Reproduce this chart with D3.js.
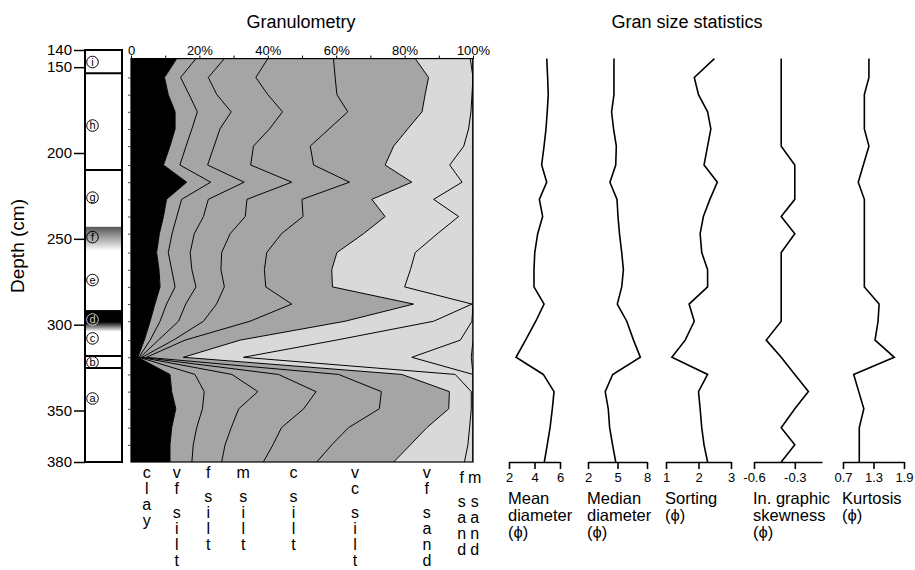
<!DOCTYPE html>
<html>
<head>
<meta charset="utf-8">
<script src="https://cdn.jsdelivr.net/npm/d3@7"></script>
<style>
  body { margin: 0; background: #fff; }
  text { font-family: "Liberation Sans", Arial, sans-serif; fill: #000; }
</style>
</head>
<body>
<div id="chart"></div>
<script>
// sample depths (cm)
var depths = [145, 156, 166, 176, 186, 196, 207, 217, 227, 237, 247, 258, 268, 278, 288, 298, 309, 319, 329, 339, 349, 360, 370, 380];

// cumulative granulometry, % at the upper limit of each class
var cumClay   = [13.4, 9.8, 10.9, 12.9, 12.9, 11.4, 9.5, 16.3, 10.4, 9.5, 8.3, 7.5, 8.2, 8.5, 7.0, 5.6, 3.9, 2.0, 11.4, 11.9, 13.1, 11.9, 11.4, 11.4];
var cumVfSilt = [19.0, 14.5, 17.0, 19.4, 17.8, 16.1, 14.3, 23.3, 14.8, 13.4, 12.0, 10.9, 11.9, 12.9, 10.4, 8.5, 5.6, 2.3, 18.7, 21.4, 20.9, 19.2, 18.2, 17.8];
var cumFSilt  = [27.3, 22.6, 25.1, 29.3, 26.0, 24.3, 22.4, 33.1, 22.6, 21.2, 18.5, 17.3, 17.8, 19.0, 16.0, 13.9, 8.0, 2.7, 29.5, 37.1, 31.5, 29.3, 27.5, 26.5];
var cumMSilt  = [40.0, 36.5, 40.0, 44.3, 40.5, 35.8, 35.0, 47.0, 33.9, 33.4, 29.0, 26.5, 26.3, 27.3, 25.0, 21.2, 12.4, 3.2, 43.1, 54.1, 50.5, 44.0, 41.5, 38.7];
var cumCSilt  = [59.2, 59.7, 60.2, 63.4, 57.9, 52.4, 53.4, 63.9, 50.0, 50.3, 44.0, 39.7, 39.0, 39.4, 47.0, 34.8, 15.8, 4.5, 60.7, 73.2, 72.6, 63.6, 58.7, 54.3];
var cumVcSilt = [83.1, 87.0, 86.0, 85.1, 80.9, 76.8, 74.3, 82.1, 70.4, 74.3, 68.0, 60.2, 58.7, 58.9, 82.6, 62.6, 31.9, 15.3, 79.2, 93.1, 92.9, 86.5, 81.7, 76.8];
var cumVfSand = [99.2, 100, 99.7, 99.4, 98.7, 97.3, 93.2, 96.8, 88.5, 95.8, 89.6, 83.1, 81.7, 80.0, 99.7, 88.5, 60.0, 32.9, 94.8, 99.5, 99.5, 99.0, 98.5, 97.5];
var cumFSand  = [100, 100, 100, 100, 100, 100, 100, 100, 100, 100, 100, 100, 100, 100, 100, 99.7, 96.3, 82.1, 100, 100, 100, 100, 100, 100];
var cumMSand  = [100, 100, 100, 100, 100, 100, 100, 100, 100, 100, 100, 100, 100, 100, 100, 100, 100, 99.5, 100, 100, 100, 100, 100, 100];
var classNames = ["clay", "vf silt", "f silt", "m silt", "c silt", "vc silt", "vf sand", "f sand", "m sand"];

// grain size statistics
var meanDiameter   = [4.96, 5.03, 5.08, 5.0, 4.9, 4.75, 4.56, 4.96, 4.38, 4.64, 4.25, 4.02, 3.96, 3.96, 4.75, 4.1, 3.3, 2.55, 4.69, 5.53, 5.4, 5.22, 5.0, 4.77];
var medianDiameter = [4.64, 4.64, 4.64, 4.4, 4.6, 4.88, 4.82, 4.23, 4.95, 5.05, 5.2, 5.43, 5.6, 5.43, 4.98, 5.94, 6.63, 7.32, 4.51, 3.75, 4.06, 4.2, 4.5, 4.82];
var sorting        = [2.49, 1.87, 2.0, 2.28, 2.38, 2.28, 2.17, 2.58, 2.35, 2.15, 2.05, 2.1, 2.28, 2.28, 1.71, 1.87, 1.59, 1.18, 2.28, 2.0, 2.05, 2.1, 2.17, 2.28];
var skewness       = [-0.4, -0.4, -0.4, -0.4, -0.4, -0.4, -0.3, -0.3, -0.3, -0.4, -0.3, -0.4, -0.4, -0.4, -0.4, -0.4, -0.51, -0.4, -0.3, -0.2, -0.3, -0.4, -0.3, -0.4];
var kurtosis       = [1.21, 1.21, 1.12, 1.12, 1.12, 1.21, 1.10, 1.0, 1.12, 1.12, 1.12, 1.12, 1.12, 1.12, 1.41, 1.39, 1.33, 1.71, 0.91, 1.01, 1.11, 1.02, 1.02, 1.02];

var statLabels = [["Mean", "diameter", "(ϕ)"], ["Median", "diameter", "(ϕ)"], ["Sorting", "(ϕ)"], ["In. graphic", "skewness", "(ϕ)"], ["Kurtosis", "(ϕ)"]];
var statDomains = [[2, 6], [2, 8], [1, 3], [-0.6, -0.1], [0.7, 1.9]];
var statTicks = [["2", "4", "6"], ["2", "5", "8"], ["1", "2", "3"], ["-0.6", "-0.3"], ["0.7", "1.3", "1.9"]];

// depth axis and lithology units
var depthTicks = [140, 150, 200, 250, 300, 350, 380];
var pctTicks = [0, 10, 20, 30, 40, 50, 60, 70, 80, 90, 100];
var unitBoundaries = [153.6, 209.9, 318.2, 325.2];
var unitLetters = ["i", "h", "g", "f", "e", "d", "c", "b", "a"];
var unitLetterDepth = [147, 184, 226, 249, 274, 297, 308, 322, 343];

var svg = d3.select("#chart").append("svg")
    .attr("width", 915)
    .attr("height", 570);

var y = d3.scaleLinear().domain([140, 380]).range([50, 462]);
var x = d3.scaleLinear().domain([0, 100]).range([131, 473]);

svg.append("text").attr("x", 301).attr("y", 28).attr("text-anchor", "middle")
    .style("font-size", "18px").text("Granulometry");
svg.append("text").attr("x", 687).attr("y", 28).attr("text-anchor", "middle")
    .style("font-size", "18px").text("Gran size statistics");

// ---- lithology column ----
var defs = svg.append("defs");
function fade(id, stops) {
    var g = defs.append("linearGradient").attr("id", id)
        .attr("x1", 0).attr("x2", 0).attr("y1", 0).attr("y2", 1);
    stops.forEach(function(s) { g.append("stop").attr("offset", s[0]).attr("stop-color", s[1]); });
}
fade("fadeF", [[0, "#555"], [0.4, "#999"], [1, "#fff"]]);
fade("fadeD", [[0, "#000"], [0.55, "#000"], [1, "#fff"]]);

var litho = svg.append("g");
var lx0 = 85, lx1 = 122;
litho.append("rect").attr("x", lx0).attr("y", y(243)).attr("width", lx1 - lx0)
    .attr("height", y(257) - y(243)).attr("fill", "url(#fadeF)");
litho.append("rect").attr("x", lx0).attr("y", y(291.5)).attr("width", lx1 - lx0)
    .attr("height", y(304) - y(291.5)).attr("fill", "url(#fadeD)");
litho.append("rect").attr("x", lx0).attr("y", y(140)).attr("width", lx1 - lx0)
    .attr("height", y(380) - y(140)).attr("fill", "none")
    .attr("stroke", "#000").attr("stroke-width", 2);
litho.selectAll("line.unit").data(unitBoundaries).enter().append("line")
    .attr("class", "unit")
    .attr("x1", lx0).attr("x2", lx1)
    .attr("y1", function(d) { return y(d); }).attr("y2", function(d) { return y(d); })
    .attr("stroke", "#000").attr("stroke-width", 2);

// circled unit letters
var marks = litho.selectAll("g.unit").data(unitLetters).enter().append("g")
    .attr("class", "unit")
    .attr("transform", function(d, i) { return "translate(92.5," + y(unitLetterDepth[i]) + ")"; });
marks.append("circle")
    .attr("r", 5.8)
    .attr("fill", "none")
    .attr("stroke", function(d) { return d === "d" ? "#ccc" : "#000"; })
    .attr("stroke-width", 1);
marks.append("text")
    .attr("text-anchor", "middle")
    .attr("dy", "0.35em")
    .style("font-size", "11px")
    .style("fill", function(d) { return d === "d" ? "#ccc" : "#000"; })
    .text(function(d) { return d; });

var depthAxis = svg.append("g").attr("transform", "translate(" + lx0 + ",0)")
    .call(d3.axisLeft(y).tickValues(depthTicks).tickSize(11).tickPadding(2));
depthAxis.select(".domain").remove();
depthAxis.selectAll("line").attr("stroke-width", 1.5);
depthAxis.selectAll("text").style("font-size", "15px").style("font-family", "'Liberation Sans', Arial, sans-serif");

svg.append("text")
    .attr("transform", "translate(24,246)rotate(-90)")
    .attr("text-anchor", "middle")
    .style("font-size", "19px")
    .text("Depth (cm)");

// ---- granulometry ----
var cumSeries = [cumClay, cumVfSilt, cumFSilt, cumMSilt, cumCSilt, cumVcSilt, cumVfSand, cumFSand, cumMSand];
var bandFill = ["#000", "#a5a5a5", "#a5a5a5", "#a5a5a5", "#a5a5a5", "#a5a5a5", "#d9d9d9", "#d9d9d9", "#d9d9d9"];

var bands = cumSeries.map(function(s, k) {
    return depths.map(function(d, i) {
        return { depth: d, lo: k ? cumSeries[k - 1][i] : 0, hi: s[i] };
    });
});

var gTop = y(depths[0]), gBot = y(depths[depths.length - 1]);
defs.append("clipPath").attr("id", "granClip").append("rect")
    .attr("x", x(0)).attr("y", gTop).attr("width", x(100) - x(0)).attr("height", gBot - gTop);

var area = d3.area()
    .y(function(d) { return y(d.depth); })
    .x0(function(d) { return x(d.lo); })
    .x1(function(d) { return x(d.hi); });
var bound = d3.line()
    .y(function(d) { return y(d.depth); })
    .x(function(d) { return x(d.hi); });

var gran = svg.append("g").attr("clip-path", "url(#granClip)");
gran.selectAll("path.band").data(bands).enter().append("path")
    .attr("class", "band")
    .attr("d", area)
    .attr("fill", function(d, k) { return bandFill[k]; })
    .attr("stroke", "none");
gran.selectAll("path.bound").data(bands).enter().append("path")
    .attr("class", "bound")
    .attr("d", bound)
    .attr("fill", "none")
    .attr("stroke", "#000")
    .attr("stroke-width", 1);

svg.append("rect").attr("x", x(0)).attr("y", gTop)
    .attr("width", x(100) - x(0)).attr("height", gBot - gTop)
    .attr("fill", "none").attr("stroke", "#000").attr("stroke-width", 1.2);

var topAxis = svg.append("g").attr("transform", "translate(0," + gTop + ")")
    .call(d3.axisTop(x).tickValues(pctTicks).tickSize(3).tickPadding(1)
        .tickFormat(function(d) { return d % 20 ? "" : (d === 0 ? "0" : d + "%"); }));
topAxis.select(".domain").remove();
topAxis.selectAll("text").style("font-size", "13px").style("font-family", "'Liberation Sans', Arial, sans-serif");

var sideAxis = svg.append("g").attr("transform", "translate(" + x(0) + ",0)")
    .call(d3.axisLeft(y).tickValues(depths.slice(1, -1)).tickSize(3).tickFormat(""));
sideAxis.select(".domain").remove();
sideAxis.selectAll("line").attr("stroke", "#444");

// stacked class labels under the panel
var classLabelPct = [4.6, 13.4, 22.6, 32.8, 47.5, 65.5, 86.5, 96.7, 100.5];
classNames.forEach(function(name, k) {
    var t = svg.append("text")
        .attr("text-anchor", "middle")
        .style("font-size", "16px");
    var yy = k >= 7 ? 483 : 478;
    name.split("").forEach(function(ch) {
        if (ch === " ") { yy += 8; return; }
        t.append("tspan").attr("x", x(classLabelPct[k])).attr("y", yy).text(ch);
        yy += 16;
    });
});

// ---- statistics ----
var statSeries = [meanDiameter, medianDiameter, sorting, skewness, kurtosis];
var statRanges = [[509, 560], [588, 647], [666, 731], [754, 822], [843, 904]];
var axisY = y(380);

statSeries.forEach(function(vals, k) {
    var sx = d3.scaleLinear().domain(statDomains[k]).range(statRanges[k]);
    var tickVals = statTicks[k].map(Number);

    svg.append("path")
        .datum(vals)
        .attr("d", d3.line()
            .x(function(d) { return sx(d); })
            .y(function(d, i) { return y(depths[i]); }))
        .attr("fill", "none")
        .attr("stroke", "#000")
        .attr("stroke-width", 1.6);

    var ax = svg.append("g").attr("transform", "translate(0," + axisY + ")")
        .call(d3.axisBottom(sx).tickValues(tickVals).tickSize(7).tickSizeOuter(0).tickPadding(4)
            .tickFormat(function(d, i) { return statTicks[k][i]; }));
    ax.select(".domain").attr("stroke-width", 1.6);
    ax.selectAll("line").attr("stroke-width", 1.6);
    ax.selectAll("text").style("font-size", "13px").style("font-family", "'Liberation Sans', Arial, sans-serif");

    // each label line as its own text so the lines do not collide
    statLabels[k].forEach(function(s, j) {
        svg.append("text")
            .attr("x", statRanges[k][0] - 1)
            .attr("y", 504 + j * 17)
            .style("font-size", "16.5px")
            .text(s);
    });
});
</script>
</body>
</html>
